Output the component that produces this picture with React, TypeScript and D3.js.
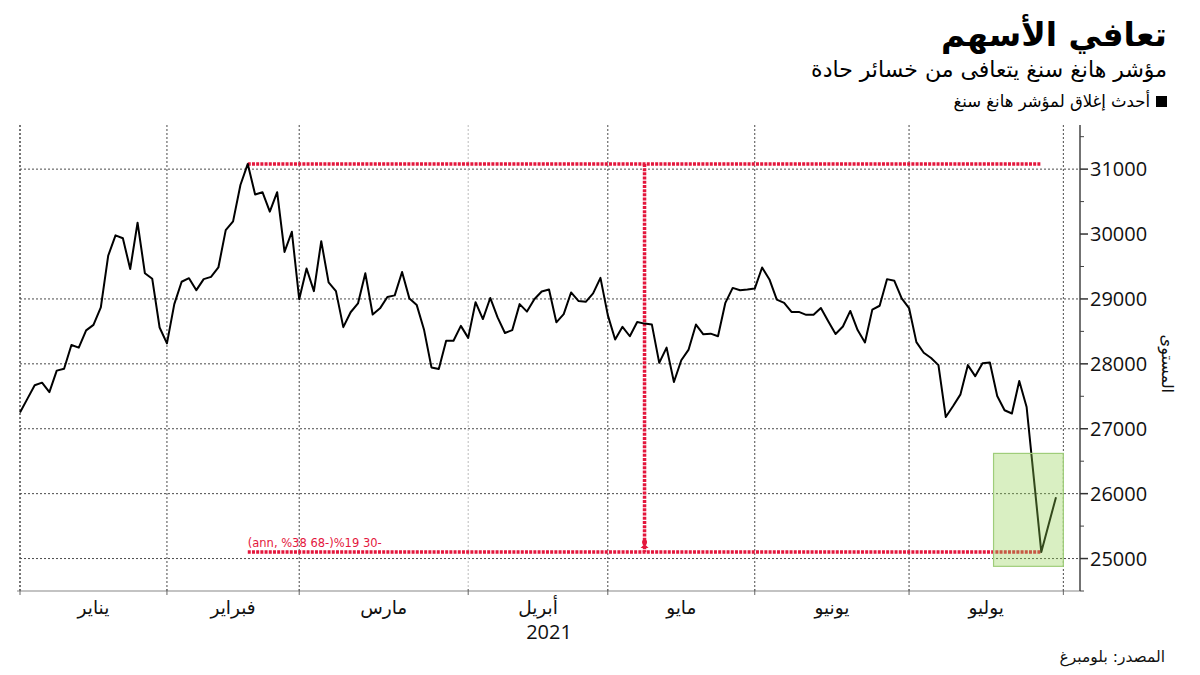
import React from "react";
import * as d3 from "d3";

// ---- data ----
const closes: number[] = [
  27250, 27460, 27670, 27710, 27565, 27895, 27925, 28290, 28250, 28515,
  28600, 28870, 29665, 29980, 29935, 29460, 30175, 29395, 29310, 28560,
  28315, 28920, 29265, 29320, 29135, 29305, 29340, 29485, 30060, 30195,
  30755, 31080, 30610, 30645, 30345, 30645, 29725, 30035, 28995, 29470,
  29120, 29890, 29255, 29120, 28565, 28795, 28930, 29395, 28760, 28855,
  29030, 29055, 29415, 29005, 28905, 28520, 27945, 27920, 28355, 28355,
  28585, 28400, 28950, 28690, 29015, 28715, 28475, 28520, 28920, 28805,
  28995, 29115, 29145, 28640, 28765, 29100, 28970, 28955, 29085, 29325,
  28750, 28375, 28570, 28425, 28645, 28620, 28605, 28015, 28250, 27720,
  28055, 28220, 28605, 28455, 28465, 28425, 28940, 29170, 29135, 29145,
  29160, 29485, 29300, 28990, 28940, 28800, 28800, 28755, 28755, 28860,
  28655, 28460, 28575, 28815, 28520, 28330, 28835, 28895, 29305, 29280,
  29010, 28860, 28335, 28170, 28090, 27980, 27180, 27350, 27530, 27980,
  27810, 28010, 28020, 27505, 27285, 27235, 27735, 27335, 26220, 25100,
  25525, 25945,
];

const monthLabels: string[] = ["يناير", "فبراير", "مارس", "أبريل", "مايو", "يونيو", "يوليو"];
const monthStartIdx: number[] = [0, 20, 38, 61, 80, 100, 121, 142];
const yearLabel = "2021";

const yMajorTicks: number[] = [25000, 26000, 27000, 28000, 29000, 30000, 31000];
const yMinorTicks: number[] = [24500, 25500, 26500, 27500, 28500, 29500, 30500, 31500];
const yGridValues: number[] = [25000, 26000, 27000, 28000, 29000, 31000];

// highlighted recent-drop box (index range and value range)
const highlightIdx: number[] = [132.5, 142];
const highlightVal: number[] = [24880, 26620];

const title = "تعافي الأسهم";
const subtitle = "مؤشر هانغ سنغ يتعافى من خسائر حادة";
const legendLabel = "أحدث إغلاق لمؤشر هانغ سنغ";
const yAxisTitle = "المستوى";
const sourceText = "المصدر: بلومبرغ";
const annotationText = "(ann, %38 68-)%19 30-";

export default function App() {
  const W = 1200;
  const H = 675;
  const left = 20;
  const plotRight = 1080;
  const top = 125;
  const bottom = 591;

  const x = d3.scaleLinear().domain([0, closes.length - 1]).range([left, 1056]);
  const y = d3.scaleLinear().domain([24500, 31680]).range([bottom, top]);

  const line = d3
    .line<number>()
    .x((_, i) => x(i))
    .y((d) => y(d));

  const peakVal = d3.max(closes)!;
  const peakIdx = closes.indexOf(peakVal);
  const troughIdx = d3.minIndex(closes.slice(peakIdx)) + peakIdx;
  const troughVal = closes[troughIdx];
  const midX = (x(peakIdx) + x(troughIdx)) / 2;

  const arabic = "'DejaVu Sans', 'Noto Sans', sans-serif";
  const latin = "'Open Sans', 'DejaVu Sans', sans-serif";
  const red = "#e4173d";

  return (
    <svg
      width={W}
      height={H}
      style={{ position: "absolute", left: 0, top: 0, display: "block", background: "#fff" }}
    >
      {/* titles */}
      <text x={1167} y={46} direction="rtl" textAnchor="start" fontFamily={arabic} fontWeight="bold" fontSize={33} fill="#000">
        {title}
      </text>
      <text x={1167} y={77} direction="rtl" textAnchor="start" fontFamily={arabic} fontSize={22} fill="#000">
        {subtitle}
      </text>
      <rect x={1156} y={96} width={11} height={11} fill="#000" />
      <text x={1150} y={107} direction="rtl" textAnchor="start" fontFamily={arabic} fontSize={16.5} fill="#000">
        {legendLabel}
      </text>

      {/* horizontal gridlines */}
      {yGridValues.map((v) => (
        <line key={"hg" + v} x1={left} x2={plotRight} y1={y(v)} y2={y(v)} stroke="#4a4a4a" strokeWidth={1} strokeDasharray="2,2" />
      ))}

      {/* vertical gridlines at month starts */}
      {monthStartIdx.map((m, i) => (
        <line
          key={"vg" + m}
          x1={x(m)}
          x2={x(m)}
          y1={top}
          y2={bottom}
          stroke={i === 3 ? "#bbb" : "#4a4a4a"}
          strokeWidth={i === 0 ? 1.5 : 1}
          strokeDasharray="2,2"
        />
      ))}

      {/* x axis */}
      <line x1={17} x2={plotRight} y1={bottom} y2={bottom} stroke="#888" strokeWidth={1.2} />
      {monthStartIdx.map((m) => (
        <line key={"xt" + m} x1={x(m)} x2={x(m)} y1={bottom - 2} y2={bottom + 4} stroke="#666" strokeWidth={1} />
      ))}
      {monthLabels.map((lab, i) => (
        <text
          key={"ml" + i}
          x={(x(monthStartIdx[i]) + x(monthStartIdx[i + 1])) / 2}
          y={614}
          textAnchor="middle"
          fontFamily={arabic}
          fontSize={18.5}
          fill="#111"
        >
          {lab}
        </text>
      ))}
      <text x={549} y={639} textAnchor="middle" fontFamily={latin} fontSize={20} fill="#111">
        {yearLabel}
      </text>

      {/* y axis (right) */}
      <line x1={plotRight} x2={plotRight} y1={top} y2={bottom} stroke="#444" strokeWidth={1.5} />
      {yMinorTicks.map((v) => (
        <line key={"mn" + v} x1={plotRight} x2={plotRight + 4} y1={y(v)} y2={y(v)} stroke="#444" strokeWidth={1} />
      ))}
      {yMajorTicks.map((v) => (
        <g key={"mj" + v}>
          <line x1={plotRight} x2={plotRight + 8} y1={y(v)} y2={y(v)} stroke="#333" strokeWidth={1.5} />
          <text x={plotRight + 10} y={y(v)} dy="0.36em" fontFamily={latin} fontSize={20} fill="#111">
            {v}
          </text>
        </g>
      ))}
      <text
        transform={`translate(1162, ${y(28000)}) rotate(90)`}
        textAnchor="middle"
        fontFamily={arabic}
        fontSize={16}
        fill="#111"
      >
        {yAxisTitle}
      </text>

      {/* peak-to-trough annotation */}
      <line x1={x(peakIdx)} x2={x(troughIdx)} y1={y(peakVal)} y2={y(peakVal)} stroke={red} strokeWidth={3.5} strokeDasharray="3,1.2" />
      <line x1={x(peakIdx)} x2={x(troughIdx)} y1={y(troughVal)} y2={y(troughVal)} stroke={red} strokeWidth={3.5} strokeDasharray="3,1.2" />
      <line x1={midX} x2={midX} y1={y(peakVal)} y2={y(troughVal)} stroke={red} strokeWidth={3.5} strokeDasharray="3,1.2" />
      <circle cx={midX} cy={y(troughVal) - 10} r={2.5} fill={red} />
      <path d={`M${midX - 4},${y(troughVal) - 4} L${midX + 4},${y(troughVal) - 4} L${midX},${y(troughVal) - 8} Z`} fill={red} />
      <text x={x(peakIdx)} y={y(troughVal) - 5} fontFamily={arabic} fontSize={11.5} fill={red}>
        {annotationText}
      </text>

      {/* index line */}
      <path d={line(closes) || ""} fill="none" stroke="#000" strokeWidth={2} strokeLinejoin="round" />

      {/* highlight box */}
      <rect
        x={x(highlightIdx[0])}
        y={y(highlightVal[1])}
        width={x(highlightIdx[1]) - x(highlightIdx[0])}
        height={y(highlightVal[0]) - y(highlightVal[1])}
        fill="#92d050"
        fillOpacity={0.35}
        stroke="#9fcd7a"
        strokeWidth={1.2}
      />

      {/* source */}
      <text x={1165} y={662} direction="rtl" textAnchor="start" fontFamily={arabic} fontSize={15.5} fill="#111">
        {sourceText}
      </text>
    </svg>
  );
}
